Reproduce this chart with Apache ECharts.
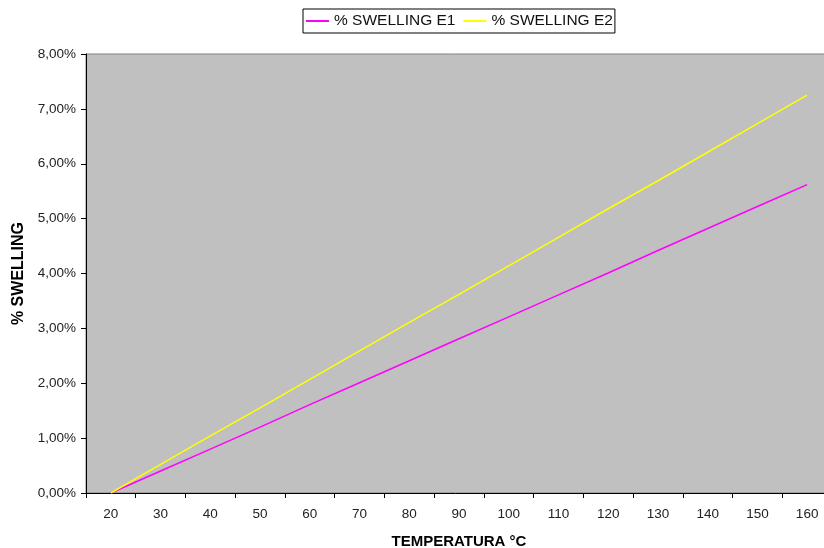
<!DOCTYPE html>
<html>
<head>
<meta charset="utf-8">
<script src="https://cdn.jsdelivr.net/npm/echarts@6/dist/echarts.min.js"></script>
<style>
  html, body { margin: 0; padding: 0; background: #fff; overflow: hidden; }
  #chart { width: 824px; height: 548px; }
</style>
</head>
<body>
<div id="chart"></div>
<script>
// Temperature steps (°C)
const temperatures = ['20', '30', '40', '50', '60', '70', '80', '90', '100', '110', '120', '130', '140', '150', '160'];

// Swelling in percent for each temperature
const swellingE1 = [0.00, 0.40, 0.80, 1.20, 1.61, 2.01, 2.41, 2.81, 3.21, 3.61, 4.01, 4.42, 4.82, 5.22, 5.62];
const swellingE2 = [0.00, 0.52, 1.04, 1.55, 2.07, 2.59, 3.11, 3.62, 4.14, 4.66, 5.18, 5.69, 6.21, 6.73, 7.25];

const seriesNames = ['% SWELLING E1', '% SWELLING E2'];

const chart = echarts.init(document.getElementById('chart'), null, { renderer: 'canvas' });

const font = 'Liberation Sans, Arial, sans-serif';

chart.setOption({
  animation: false,
  backgroundColor: '#ffffff',
  textStyle: { fontFamily: font },
  legend: {
    left: 303,
    top: 9,
    padding: [4, 2, 4, 3],
    itemGap: 8,
    itemWidth: 23,
    itemHeight: 2,
    icon: 'rect',
    borderColor: '#000',
    borderWidth: 1,
    textStyle: { fontFamily: font, fontSize: 15.5, color: '#111' },
    data: seriesNames
  },
  grid: {
    left: 86,
    top: 54,
    right: -8,
    bottom: 55,
    show: true,
    backgroundColor: '#C0C0C0',
    borderColor: '#808080',
    borderWidth: 1,
    containLabel: false,
    outerBoundsMode: 'none'
  },
  xAxis: {
    type: 'category',
    data: temperatures,
    boundaryGap: true,
    name: 'TEMPERATURA °C',
    nameLocation: 'middle',
    nameGap: 41,
    nameTextStyle: { fontFamily: font, fontSize: 15, fontWeight: 'bold', color: '#000' },
    axisLine: { lineStyle: { color: '#000', width: 1 } },
    axisTick: { show: true, length: 5, lineStyle: { color: '#000' } },
    axisLabel: { fontFamily: font, fontSize: 13.5, color: '#222', margin: 14 },
    splitLine: { show: false }
  },
  yAxis: {
    type: 'value',
    min: 0,
    max: 8,
    interval: 1,
    name: '% SWELLING',
    nameLocation: 'middle',
    nameRotate: 90,
    nameGap: 55,
    nameTextStyle: { fontFamily: font, fontSize: 16, fontWeight: 'bold', color: '#000' },
    axisLine: { show: true, lineStyle: { color: '#000', width: 1 } },
    axisTick: { show: true, length: 5, lineStyle: { color: '#000' } },
    axisLabel: {
      fontFamily: font,
      fontSize: 13.5,
      color: '#222',
      margin: 10,
      formatter: v => v.toFixed(2).replace('.', ',') + '%'
    },
    splitLine: { show: false }
  },
  series: [
    {
      name: seriesNames[0],
      type: 'line',
      data: swellingE1,
      symbol: 'none',
      color: '#FF00FF',
      lineStyle: { color: '#FF00FF', width: 1.5 }
    },
    {
      name: seriesNames[1],
      type: 'line',
      data: swellingE2,
      symbol: 'none',
      color: '#FFFF00',
      lineStyle: { color: '#FFFF00', width: 1.5 }
    }
  ]
});
</script>
</body>
</html>
